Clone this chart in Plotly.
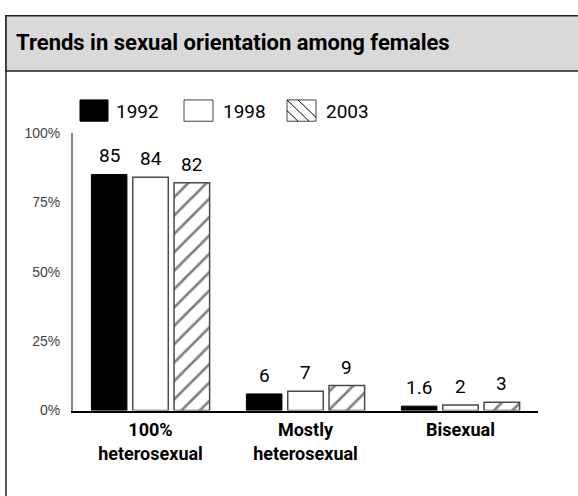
import plotly.graph_objects as go

categories = ["100%<br>heterosexual", "Mostly<br>heterosexual", "Bisexual"]
years = ["1992", "1998", "2003"]
values_1992 = [85, 6, 1.6]
values_1998 = [84, 7, 2]
values_2003 = [82, 9, 3]
labels_1992 = ["85", "6", "1.6"]
labels_1998 = ["84", "7", "2"]
labels_2003 = ["82", "9", "3"]
y_ticks = [0, 25, 50, 75, 100]
y_tick_labels = ["0%", "25%", "50%", "75%", "100%"]

W, H = 578, 496
NARROW = "Roboto, DejaVu Sans Condensed, sans-serif"
REG = "Liberation Sans, Arial, sans-serif"

X0, X1 = 73, 538          # plot area, pixels
Y_TOP, Y_BASE = 129, 416
BARGAP, GROUPGAP = 0.2, 0.14

def px(x):
    return x / W

def py(y):
    return 1 - y / H

fig = go.Figure()
series = [
    (years[0], values_1992, labels_1992,
     dict(color="black", line=dict(color="black", width=1))),
    (years[1], values_1998, labels_1998,
     dict(color="white", line=dict(color="#4a4a4a", width=1.5))),
    (years[2], values_2003, labels_2003,
     dict(color="white", line=dict(color="#4a4a4a", width=1.5),
          pattern=dict(shape="/", fgcolor="black", bgcolor="white", size=13, solidity=0.2))),
]
for name, vals, _, marker in series:
    fig.add_trace(go.Bar(name=name, x=categories, y=vals, marker=marker,
                         hoverinfo="x+y+name"))

# value labels above bars (positioned through the axes, offset by bar slot)
cat_px = (X1 - X0) / len(categories)
slot_px = cat_px * (1 - BARGAP) / len(series)
annotations = []
for i, (name, vals, labs, _) in enumerate(series):
    shift = (i - (len(series) - 1) / 2) * slot_px
    for c, v, t in zip(categories, vals, labs):
        annotations.append(dict(x=c, y=v, xref="x", yref="y", text=t, showarrow=False,
                                xanchor="center", yanchor="bottom", xshift=shift, yshift=5,
                                font=dict(family=NARROW, size=19, color="black")))

shapes = []
# outer frame + header band
shapes.append(dict(type="rect", xref="paper", yref="paper",
                   x0=px(6), x1=px(590), y0=py(8), y1=py(510),
                   line=dict(color="#222222", width=1.5), fillcolor="rgba(0,0,0,0)", layer="below"))
shapes.append(dict(type="rect", xref="paper", yref="paper",
                   x0=px(6), x1=px(590), y0=py(8), y1=py(65),
                   line=dict(color="#222222", width=1.5), fillcolor="#d9d9d9", layer="below"))

# legend boxes
shapes.append(dict(type="rect", xref="paper", yref="paper",
                   x0=px(80), x1=px(108), y0=py(95), y1=py(117),
                   line=dict(color="black", width=1), fillcolor="black"))
shapes.append(dict(type="rect", xref="paper", yref="paper",
                   x0=px(184), x1=px(213), y0=py(95), y1=py(117),
                   line=dict(color="#444444", width=1), fillcolor="white"))
shapes.append(dict(type="rect", xref="paper", yref="paper",
                   x0=px(287), x1=px(316), y0=py(95), y1=py(117),
                   line=dict(color="#444444", width=1), fillcolor="white"))
for (xa, ya, xb, yb) in [(287, 106, 298, 117), (287, 95, 309, 117), (298, 95, 316, 113)]:
    shapes.append(dict(type="line", xref="paper", yref="paper",
                       x0=px(xa), y0=py(ya), x1=px(xb), y1=py(yb),
                       line=dict(color="black", width=1)))

annotations.append(dict(text="<b>Trends in sexual orientation among females</b>",
                        xref="paper", yref="paper", x=px(14), y=py(36),
                        xanchor="left", yanchor="middle", showarrow=False,
                        font=dict(family=NARROW, size=22, color="black")))
for name, xl in zip(years, [114, 221, 324]):
    annotations.append(dict(text=name, xref="paper", yref="paper", x=px(xl), y=py(107),
                            xanchor="left", yanchor="middle", showarrow=False,
                            font=dict(family=NARROW, size=19, color="black")))

fig.update_layout(
    width=W, height=H, autosize=False,
    margin=dict(l=0, r=0, t=0, b=0),
    paper_bgcolor="white", plot_bgcolor="white",
    barmode="group", bargap=BARGAP, bargroupgap=GROUPGAP,
    showlegend=False,
    shapes=shapes, annotations=annotations,
    xaxis=dict(domain=[px(X0), px(X1)], range=[-0.5, 2.5],
               showline=True, linecolor="black", linewidth=2,
               ticks="", showgrid=False, zeroline=False, layer="below traces",
               tickfont=dict(family=NARROW, size=18, color="black"),
               tickprefix="<b>", ticksuffix="</b>", ticklabelstandoff=2),
    yaxis=dict(domain=[1 - Y_BASE / H, 1 - Y_TOP / H], range=[0, 100],
               tickvals=y_ticks, ticktext=y_tick_labels,
               showline=True, linecolor="#888888", linewidth=2,
               ticks="", showgrid=False, zeroline=False,
               tickfont=dict(family=REG, size=14, color="#444444"),
               ticklabelstandoff=8),
)

fig.write_html("out.html", post_script="document.body.style.margin='0';",
               config={"displayModeBar": False})
